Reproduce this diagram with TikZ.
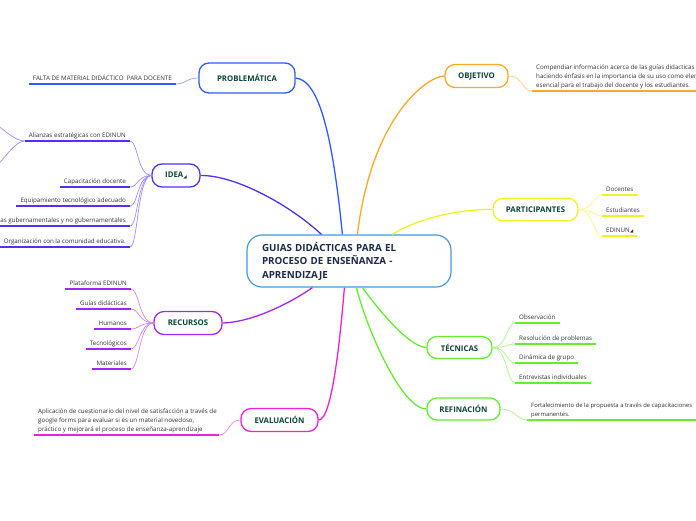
\documentclass[tikz,border=0pt]{standalone}
\usepackage{fontspec}
\setmainfont{Open Sans}
\newfontfamily\symfont{DejaVu Sans}
\usetikzlibrary{calc}
\definecolor{cBlue}{HTML}{2F5BFF}
\definecolor{cIdea}{HTML}{5A2DF5}
\definecolor{cRec}{HTML}{A526F2}
\definecolor{cEval}{HTML}{F020D8}
\definecolor{cObj}{HTML}{FFA726}
\definecolor{cPart}{HTML}{F2F222}
\definecolor{cGreen}{HTML}{66EE2E}
\definecolor{cCenter}{HTML}{4A98D8}
\definecolor{pillText}{HTML}{0C4436}
\definecolor{titleText}{HTML}{1C2B4A}
\definecolor{leafText}{HTML}{333333}
\tikzset{
  pill/.style={draw=#1, fill=white, rounded corners=10pt, line width=1.3pt,
    minimum height=23pt, inner xsep=4pt, inner ysep=0pt,
    font=\fontsize{7.8}{9}\selectfont\bfseries, text=pillText},
  centerbox/.style={draw=cCenter, fill=white, rounded corners=15pt, line width=1.2pt,
    minimum width=204pt, minimum height=52pt, inner xsep=15pt, align=left,
    text width=174pt, font=\fontsize{9.8}{13.5}\selectfont\bfseries, text=titleText},
  leaf/.style={font=\fontsize{6.2}{9.2}\selectfont, text=leafText, inner xsep=4pt,
    inner ysep=2.2pt, text depth=1.2pt, align=left},
  mainlink/.style={draw=#1, line width=1.3pt},
  sublink/.style={draw=#1!55, line width=0.7pt},
  uline/.style={draw=#1, line width=1.6pt},
}
\newcommand{\tri}{{\symfont\fontsize{4.5}{4.5}\selectfont\raisebox{-0.5pt}{◢}}}
\begin{document}
\begin{tikzpicture}[x=1pt,y=-1pt]
\useasboundingbox (0,0) rectangle (696,520);

% central topic
\node[centerbox] (c) at (349,261) {GUIAS DIDÁCTICAS PARA EL\\PROCESO DE ENSEÑANZA -\\APRENDIZAJE};

% main pills
\node[pill=cBlue, minimum width=96pt, minimum height=30pt] (prob) at (247,78) {PROBLEMÁTICA};
\node[pill=cIdea, minimum width=48pt] (idea) at (176,175.5) {IDEA\tri};
\node[pill=cRec, minimum width=68pt] (rec) at (188,323) {RECURSOS};
\node[pill=cEval, minimum width=77pt] (eval) at (279.5,420) {EVALUACIÓN};
\node[pill=cObj, minimum width=63pt] (obj) at (476.5,76) {OBJETIVO};
\node[pill=cPart, minimum width=85pt, minimum height=22.5pt] (part) at (535.5,209.5) {PARTICIPANTES};
\node[pill=cGreen, minimum width=65pt, minimum height=22pt] (tec) at (459.5,347.5) {TÉCNICAS};
\node[pill=cGreen, minimum width=73pt, minimum height=22pt] (ref) at (463.5,409) {REFINACIÓN};

% main links
\draw[mainlink=cBlue] (prob.east) .. controls (320,80) and (333,140) .. ($(c.north west)+(96,0)$);
\draw[mainlink=cIdea] (idea.east) .. controls (235,175) and (290,205) .. ($(c.north west)+(75,0)$);
\draw[mainlink=cRec] (rec.east) .. controls (255,322) and (295,300) .. ($(c.south west)+(66,0)$);
\draw[mainlink=cEval] (eval.east) .. controls (332,420) and (340,340) .. ($(c.south west)+(98,0)$);
\draw[mainlink=cObj] (obj.west) .. controls (428,76) and (372,115) .. ($(c.north west)+(111,0)$);
\draw[mainlink=cPart] (part.west) .. controls (455,209) and (415,220) .. ($(c.north west)+(146,0)$);
\draw[mainlink=cGreen] (tec.west) .. controls (408,347) and (375,305) .. ($(c.south west)+(116,0)$);
\draw[mainlink=cGreen] (ref.west) .. controls (402,409) and (367,330) .. ($(c.south west)+(110,0)$);

% PROBLEMATICA leaf
\node[leaf, anchor=south east] (p1) at (176,84) {FALTA DE MATERIAL DIDÁCTICO\ \ PARA DOCENTE};
\draw[uline=cBlue] (p1.south west) -- (p1.south east);
\draw[sublink=cBlue] (prob.west) .. controls +(-12,0) and +(10,0) .. (p1.south east);

% IDEA leaves
\node[leaf, anchor=south east] (i1) at (130,141) {Alianzas estratégicas con EDINUN};
\node[leaf, anchor=south east] (i2) at (130,187) {Capacitación docente};
\node[leaf, anchor=south east] (i3) at (130,206) {Equipamiento tecnológico adecuado};
\node[leaf, anchor=south east] (i4) at (130,226) {Alianzas gubernamentales y no gubernamentales};
\node[leaf, anchor=south east] (i5) at (130,247) {Organización con la comunidad educativa.};
\foreach \n in {i1,i2,i3,i4,i5}{
  \draw[uline=cIdea] (\n.south west) -- (\n.south east);
  \draw[sublink=cIdea] (idea.west) .. controls +(-14,0) and +(8,0) .. (\n.south east);
}
\coordinate (i1up) at (-2,126);
\coordinate (i1dn) at (-2,164);
\draw[sublink=cIdea] (i1.south west) .. controls +(-10,0) and +(4,2) .. (i1up);
\draw[sublink=cIdea] (i1.south west) .. controls +(-10,0) and +(4,-2) .. (i1dn);

% RECURSOS leaves
\node[leaf, anchor=south east] (r1) at (131,289) {Plataforma EDINUN};
\node[leaf, anchor=south east] (r2) at (131,309) {Guías didácticas};
\node[leaf, anchor=south east] (r3) at (131,329) {Humanos};
\node[leaf, anchor=south east] (r4) at (131,349) {Tecnológicos};
\node[leaf, anchor=south east] (r5) at (131,369) {Materiales};
\foreach \n in {r1,r2,r3,r4,r5}{
  \draw[uline=cRec] (\n.south west) -- (\n.south east);
  \draw[sublink=cRec] (rec.west) .. controls +(-14,0) and +(8,0) .. (\n.south east);
}

% EVALUACION leaf
\node[leaf, anchor=south west] (e1) at (34,435) {Aplicación de cuestionario del nivel de satisfacción a través de\\google forms para evaluar si es un material novedoso,\\práctico y mejorará el proceso de enseñanza-aprendizaje};
\draw[uline=cEval] (e1.south west) -- ($(e1.south west)+(185,0)$) coordinate (e1end);
\draw[sublink=cEval] (eval.west) .. controls +(-12,0) and +(10,0) .. (e1end);

% OBJETIVO leaf
\node[leaf, anchor=south west] (o1) at (532,91) {Compendiar información acerca de las guías didacticas\\haciendo énfasis en la importancia de su uso como elemento\\esencial para el trabajo del docente y los estudiantes.};
\draw[uline=cObj] (o1.south west) -- (o1.south east);
\draw[sublink=cObj] (obj.east) .. controls +(14,0) and +(-10,0) .. (o1.south west);

% PARTICIPANTES leaves
\node[leaf, anchor=south west] (pa1) at (602,195) {Docentes};
\node[leaf, anchor=south west] (pa2) at (602,216) {Estudiantes};
\node[leaf, anchor=south west] (pa3) at (602,236) {EDINUN\tri};
\foreach \n in {pa1,pa2,pa3}{
  \draw[uline=cPart] (\n.south west) -- (\n.south east);
  \draw[sublink=cPart] (part.east) .. controls +(14,0) and +(-8,0) .. (\n.south west);
}

% TECNICAS leaves
\node[leaf, anchor=south west] (t1) at (515,323) {Observación};
\node[leaf, anchor=south west] (t2) at (515,344) {Resolución de problemas};
\node[leaf, anchor=south west] (t3) at (515,363) {Dinámica de grupo};
\node[leaf, anchor=south west] (t4) at (515,383) {Entrevistas individuales};
\foreach \n in {t1,t2,t3,t4}{
  \draw[uline=cGreen] (\n.south west) -- (\n.south east);
  \draw[sublink=cGreen] (tec.east) .. controls +(14,0) and +(-8,0) .. (\n.south west);
}

% REFINACION leaf
\node[leaf, anchor=south west, font=\fontsize{5.9}{9.2}\selectfont] (rf1) at (527,420) {Fortalecimiento de la propuesta a través de capacitaciones\\permanentes.};
\draw[uline=cGreen] (rf1.south west) -- ($(rf1.south west)+(172,0)$) coordinate (rf1end);
\draw[sublink=cGreen] (ref.east) .. controls +(14,0) and +(-10,0) .. (rf1.south west);
\end{tikzpicture}
\end{document}
